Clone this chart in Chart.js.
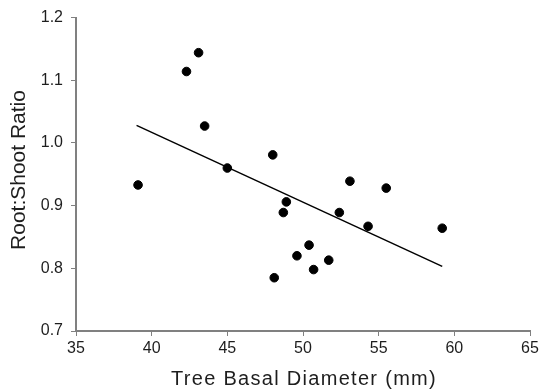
<!DOCTYPE html>
<html>
<head>
<meta charset="utf-8">
<script src="https://cdn.jsdelivr.net/npm/chart.js@4.4.1/dist/chart.umd.min.js"></script>
<style>
    html, body { margin: 0; padding: 0; background: #fff; }
    #wrap { width: 547px; height: 392px; }
</style>
</head>
<body>
<div id="wrap"><canvas id="grafico"></canvas></div>
<script>
// ==================== DATOS ====================
const diametro = [39.1, 42.3, 43.1, 43.5, 45.0, 48.0, 53.1, 55.5, 48.9, 48.7, 52.4, 54.3, 59.2, 50.4, 49.6, 51.7, 50.7, 48.1];
const relacion = [0.933, 1.114, 1.144, 1.027, 0.960, 0.981, 0.939, 0.928, 0.906, 0.889, 0.889, 0.867, 0.864, 0.837, 0.820, 0.813, 0.798, 0.785];

// recta de ajuste (extremos)
const ajusteX = [39.0, 59.2];
const ajusteY = [1.028, 0.803];

const ticksX = [35, 40, 45, 50, 55, 60, 65];
const ticksY = [0.7, 0.8, 0.9, 1.0, 1.1, 1.2];

const tituloX = 'Tree Basal Diameter (mm)';
const tituloY = 'Root:Shoot Ratio';

// ==================== ESTILO ====================
const FUENTE = '"Liberation Sans", Arial, sans-serif';
const GRIS = '#808080';
const TEXTO = '#1e1e1e';

// titulos de ejes dibujados a mano (con espaciado de letras)
const titulosEjes = {
    id: 'titulosEjes',
    afterDraw(chart) {
        const ctx = chart.ctx;
        const area = chart.chartArea;
        ctx.save();
        ctx.fillStyle = TEXTO;
        ctx.textAlign = 'center';
        ctx.textBaseline = 'alphabetic';

        ctx.font = '20px ' + FUENTE;
        ctx.letterSpacing = '1.3px';
        ctx.fillText(tituloX, (area.left + area.right) / 2 + 1, 385);

        ctx.font = '21px ' + FUENTE;
        ctx.letterSpacing = '0px';
        ctx.translate(25, 170);
        ctx.rotate(-Math.PI / 2);
        ctx.fillText(tituloY, 0, 0);
        ctx.restore();
    }
};

const puntos = diametro.map((x, i) => ({ x: x, y: relacion[i] }));
const recta = ajusteX.map((x, i) => ({ x: x, y: ajusteY[i] }));

new Chart(document.getElementById('grafico'), {
    type: 'scatter',
    data: {
        datasets: [
            {
                data: puntos,
                backgroundColor: '#000',
                borderColor: '#000',
                pointRadius: 4.3,
                pointHoverRadius: 4.3
            },
            {
                type: 'line',
                data: recta,
                borderColor: '#000',
                borderWidth: 1.5,
                pointRadius: 0,
                fill: false
            }
        ]
    },
    options: {
        responsive: true,
        maintainAspectRatio: false,
        animation: false,
        layout: { padding: { top: 13, right: 17, left: 0, bottom: 0 } },
        plugins: { legend: { display: false }, tooltip: { enabled: false } },
        scales: {
            x: {
                type: 'linear',
                min: 35,
                max: 65,
                afterBuildTicks: s => { s.ticks = ticksX.map(v => ({ value: v })); },
                afterFit: s => { s.height = 61; },
                border: { display: true, color: GRIS, width: 2 },
                grid: { drawOnChartArea: false, drawTicks: true, tickLength: 5, color: GRIS, lineWidth: 1 },
                ticks: {
                    color: TEXTO,
                    font: { family: FUENTE, size: 16 },
                    padding: 3,
                    maxRotation: 0,
                    callback: v => String(v)
                }
            },
            y: {
                type: 'linear',
                min: 0.7,
                max: 1.2,
                afterBuildTicks: s => { s.ticks = ticksY.map(v => ({ value: v })); },
                afterFit: s => { s.width = 76; },
                border: { display: true, color: GRIS, width: 2 },
                grid: { drawOnChartArea: false, drawTicks: true, tickLength: 5, color: GRIS, lineWidth: 1 },
                ticks: {
                    color: TEXTO,
                    font: { family: FUENTE, size: 16 },
                    padding: 8,
                    callback: v => v.toFixed(1)
                }
            }
        }
    },
    plugins: [titulosEjes]
});
</script>
</body>
</html>
